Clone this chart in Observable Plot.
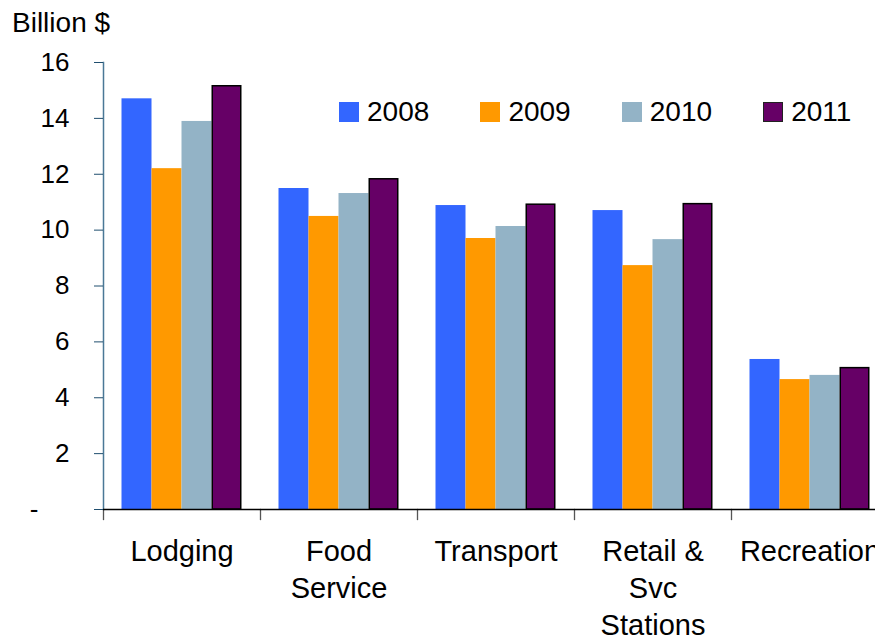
<!DOCTYPE html>
<html>
<head>
<meta charset="utf-8">
<script src="https://cdn.jsdelivr.net/npm/d3@7"></script>
<script src="https://cdn.jsdelivr.net/npm/@observablehq/plot@0.6"></script>
<style>
  html, body { margin: 0; padding: 0; background: #fff; width: 875px; height: 636px; overflow: hidden; }
  body { position: relative; font-family: "Liberation Sans", Arial, sans-serif; color: #000; }
  #title { height: 46px; line-height: 46px; font-size: 28px; padding-left: 12px; white-space: nowrap; }
  #legend { position: absolute; left: 339px; top: 102px; display: flex; }
  .item { width: 141.4px; height: 20px; display: flex; align-items: flex-start; }
  .sw { width: 20px; height: 20px; box-sizing: border-box; flex: none; }
  .lab { margin-left: 8px; font-size: 28px; line-height: 20px; white-space: nowrap; }
</style>
</head>
<body>
<div id="title">Billion $</div>
<div id="chart"></div>
<div id="legend"></div>
<script>
// ---- data ----
const categories = ["Lodging", "Food\nService", "Transport", "Retail &\nSvc\nStations", "Recreation"];
const years = ["2008", "2009", "2010", "2011"];
const v2008 = [14.70, 11.49, 10.88, 10.70, 5.37];
const v2009 = [12.20, 10.49, 9.70, 8.73, 4.65];
const v2010 = [13.89, 11.31, 10.13, 9.66, 4.80];
const v2011 = [15.15, 11.82, 10.91, 10.93, 5.06];
const colors = ["#3366FF", "#FF9900", "#93B3C6", "#660066"];
const yTicks = [0, 2, 4, 6, 8, 10, 12, 14, 16];

const series = [v2008, v2009, v2010, v2011];
const data = categories.flatMap((c, i) => years.map((yr, j) => ({category: c, year: yr, value: series[j][i]})));

// ---- layout ----
const width = 875, height = 590;
const marginTop = 16, marginBottom = 127, marginLeft = 102.5, marginRight = -13;
const plotH = height - marginTop - marginBottom;

const chart = Plot.plot({
  width, height, marginTop, marginBottom, marginLeft, marginRight,
  style: {fontFamily: "Liberation Sans, Arial, sans-serif", background: "white", overflow: "visible", color: "#000"},
  fx: {domain: categories, padding: 0, label: null},
  x: {domain: years, paddingInner: 0, paddingOuter: 0.56, axis: null},
  y: {domain: [0, 16], axis: null},
  color: {domain: years, range: colors},
  marks: [
    Plot.barY(data, {filter: d => d.year !== "2011", fx: "category", x: "year", y: "value", fill: "year"}),
    Plot.barY(data, {filter: d => d.year === "2011", fx: "category", x: "year", y: "value", fill: "year", stroke: "#000", strokeWidth: 1.5, insetLeft: 0.75, insetRight: 0.75}),
    Plot.frame({anchor: "left", stroke: "#4a7896", strokeWidth: 1.5, facetAnchor: "left"}),
    Plot.frame({anchor: "left", stroke: "#555", strokeWidth: 1.3, insetTop: plotH, insetBottom: -10}),
    Plot.ruleY([0], {stroke: "#000", strokeWidth: 1.5}),
    Plot.axisY({
      ticks: yTicks, tickSize: 9, tickPadding: 25, stroke: "#1f4e6e", fill: "#000",
      fontSize: 26, label: null,
      tickFormat: d => d === 0 ? "-\u2007\u2007\u200A" : String(d)
    }),
    Plot.axisFx({anchor: "bottom", tickSize: 0, tickPadding: 26, fontSize: 29, lineHeight: 1.26, label: null, fill: "#000"})
  ]
});
document.getElementById("chart").appendChild(chart);

// ---- legend ----
const legend = document.getElementById("legend");
years.forEach((yr, j) => {
  const item = document.createElement("div");
  item.className = "item";
  const sw = document.createElement("div");
  sw.className = "sw";
  sw.style.background = colors[j];
  if (yr === "2011") sw.style.border = "1.5px solid #222";
  const lab = document.createElement("span");
  lab.className = "lab";
  lab.textContent = yr;
  item.appendChild(sw);
  item.appendChild(lab);
  legend.appendChild(item);
});
</script>
</body>
</html>
